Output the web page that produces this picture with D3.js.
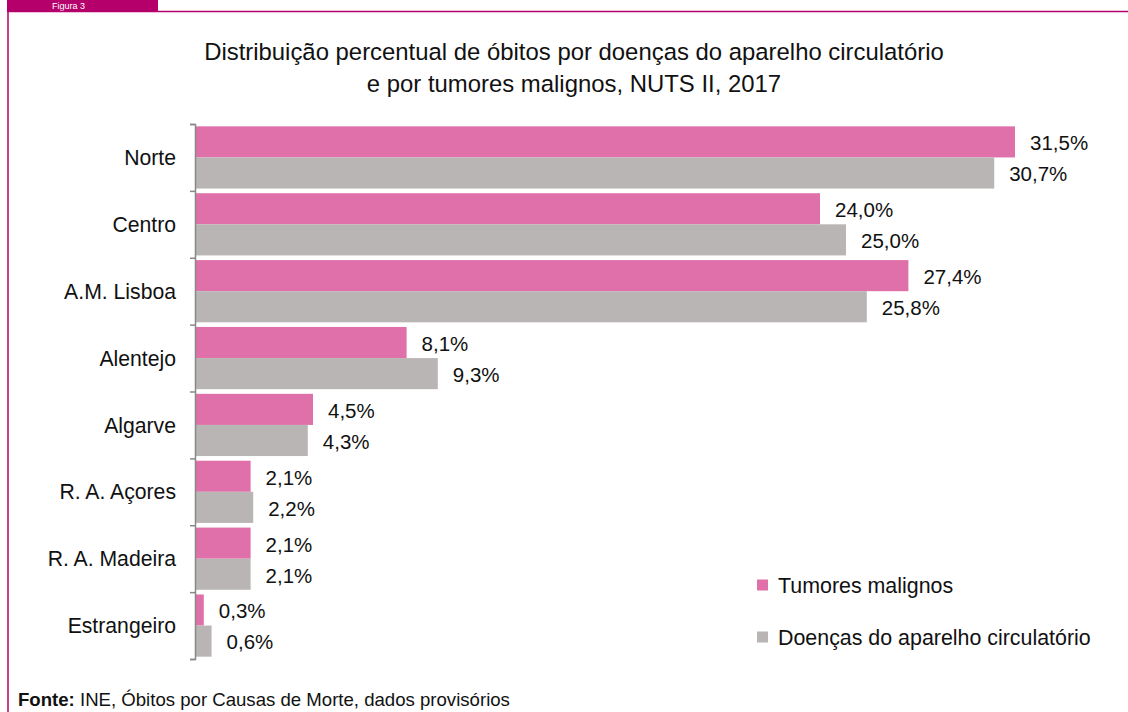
<!DOCTYPE html>
<html lang="pt">
<head>
<meta charset="utf-8">
<title>Óbitos NUTS II 2017</title>
<style>
  body { margin: 0; background: #fff; }
  svg text { font-family: "Liberation Sans", Arial, sans-serif; fill: #111; }
</style>
</head>
<body>
<script src="https://cdn.jsdelivr.net/npm/d3@7"></script>
<script>
    var categories = ["Norte", "Centro", "A.M. Lisboa", "Alentejo", "Algarve", "R. A. Açores", "R. A. Madeira", "Estrangeiro"];
    var tumores = [31.5, 24.0, 27.4, 8.1, 4.5, 2.1, 2.1, 0.3];
    var circulatorio = [30.7, 25.0, 25.8, 9.3, 4.3, 2.2, 2.1, 0.6];
    var seriesNames = ["Tumores malignos", "Doenças do aparelho circulatório"];
    var seriesColors = ["#e070a9", "#b9b5b4"];

    var width = 1128, height = 712;
    var svg = d3.select("body").append("svg")
        .attr("width", width)
        .attr("height", height);

    // frame
    var frameColor = "#b5006b";
    svg.append("rect").attr("x", 7).attr("y", 0).attr("width", 151).attr("height", 11).attr("fill", frameColor);
    svg.append("text").attr("x", 52).attr("y", 9).style("font-size", "9px").style("fill", "#fff").text("Figura 3");
    svg.append("line").attr("x1", 7).attr("x2", width).attr("y1", 11.5).attr("y2", 11.5)
        .attr("stroke", frameColor).attr("stroke-width", 1.5);
    svg.append("line").attr("x1", 8).attr("x2", 8).attr("y1", 11).attr("y2", height)
        .attr("stroke", frameColor).attr("stroke-width", 1.5);

    // title
    var title = svg.append("text")
        .attr("text-anchor", "middle")
        .style("font-size", "23.9px");
    title.append("tspan").attr("x", 574).attr("y", 60)
        .text("Distribuição percentual de óbitos por doenças do aparelho circulatório");
    title.append("tspan").attr("x", 574).attr("y", 92)
        .text("e por tumores malignos, NUTS II, 2017");

    var x = d3.scaleLinear().domain([0, 31.5]).range([196, 1015]);
    var y = d3.scaleBand().domain(categories).range([124, 659]);
    var sub = d3.scaleBand().domain([0, 1]).range([0, y.bandwidth()]).paddingOuter(0.075);

    var rows = categories.map(function (c, i) {
        return {cat: c, vals: [tumores[i], circulatorio[i]]};
    });

    var g = svg.selectAll(".row")
        .data(rows)
        .enter()
        .append("g")
        .attr("class", "row")
        .attr("transform", function (d) { return "translate(0," + y(d.cat) + ")"; });

    var bars = g.selectAll(".bar")
        .data(function (d) { return d.vals.map(function (v, k) { return {k: k, v: v}; }); })
        .enter();

    bars.append("rect")
        .attr("x", x(0))
        .attr("y", function (d) { return sub(d.k); })
        .attr("width", function (d) { return x(d.v) - x(0); })
        .attr("height", sub.bandwidth())
        .attr("fill", function (d) { return seriesColors[d.k]; });

    var fmt = function (v) { return v.toFixed(1).replace(".", ",") + "%"; };
    bars.append("text")
        .attr("x", function (d) { return x(d.v) + 15; })
        .attr("y", function (d) { return sub(d.k) + sub.bandwidth() / 2 + 1; })
        .attr("dy", "0.36em")
        .style("font-size", "20.5px")
        .text(function (d) { return fmt(d.v); });

    g.append("text")
        .attr("x", 176)
        .attr("y", y.bandwidth() / 2)
        .attr("dy", "0.36em")
        .attr("text-anchor", "end")
        .style("font-size", "21.2px")
        .text(function (d) { return d.cat; });

    // axis with ticks on category boundaries
    var edges = d3.scaleLinear().domain([0, categories.length]).range([124, 659]);
    var axis = svg.append("g")
        .attr("transform", "translate(195,0)")
        .call(d3.axisLeft(edges).ticks(categories.length).tickSize(5).tickFormat(""));
    axis.select(".domain").attr("stroke", "#888").attr("stroke-width", 1.5);
    axis.selectAll(".tick line").attr("stroke", "#888").attr("stroke-width", 1.5);

    // legend
    var legend = svg.selectAll(".legend")
        .data(seriesNames)
        .enter()
        .append("g")
        .attr("class", "legend")
        .attr("transform", function (d, i) { return "translate(757," + (585 + i * 52) + ")"; });
    legend.append("rect")
        .attr("x", 0).attr("y", -5.5)
        .attr("width", 11).attr("height", 11)
        .attr("fill", function (d, i) { return seriesColors[i]; });
    legend.append("text")
        .attr("x", 21)
        .attr("dy", "0.36em")
        .style("font-size", "21.4px")
        .text(function (d) { return d; });

    // source
    var src = svg.append("text").attr("x", 18).attr("y", 706).style("font-size", "18.6px");
    src.append("tspan").style("font-weight", "bold").text("Fonte:");
    src.append("tspan").text(" INE, Óbitos por Causas de Morte, dados provisórios");
</script>
</body>
</html>
